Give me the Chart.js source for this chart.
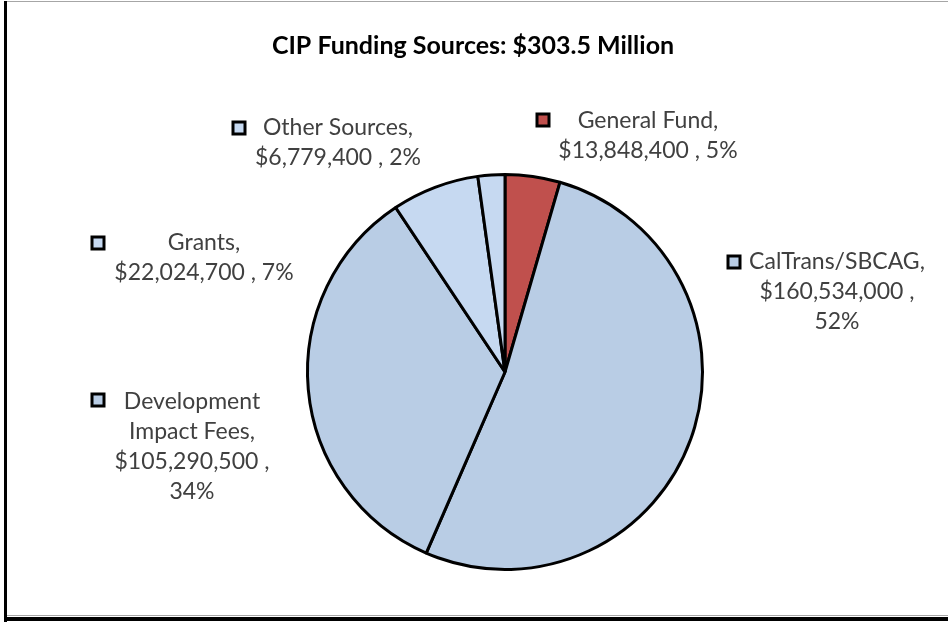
<!DOCTYPE html>
<html>
<head>
<meta charset="utf-8">
<title>CIP Funding Sources</title>
<script src="https://cdn.jsdelivr.net/npm/chart.js@4.4.1/dist/chart.umd.min.js"></script>
<style>
  html, body { margin: 0; padding: 0; background: #ffffff; }
  #wrap { width: 948px; height: 624px; }
</style>
</head>
<body>
<div id="wrap"><canvas id="pie" width="948" height="624"></canvas></div>
<script>
// Funding sources, in slice order (clockwise from 12 o'clock)
const sources = ['General Fund', 'CalTrans/SBCAG', 'Development Impact Fees', 'Grants', 'Other Sources'];
const amounts = [13848400, 160534000, 105290500, 22024700, 6779400];
const shares = [5, 52, 34, 7, 2];
const chartTitle = 'CIP Funding Sources: $303.5 Million';

const sliceColors = ['#C0504D', '#B9CDE5', '#B9CDE5', '#C6D9F1', '#C6D9F1'];

// Where each callout sits: marker box, text column centre, first line, wrap width
const callouts = [
  { mx: 543, my: 120, cx: 648, y: 121, wrap: 200 },
  { mx: 734, my: 262, cx: 837, y: 262, wrap: 190 },
  { mx: 98,  my: 400, cx: 192, y: 402, wrap: 175 },
  { mx: 98,  my: 243, cx: 204, y: 243, wrap: 200 },
  { mx: 239, my: 128, cx: 338, y: 128, wrap: 190 }
];

const LABEL_FONT = '23px Lato, "Open Sans", sans-serif';
const TITLE_FONT = 'bold 25px Lato, "Open Sans", sans-serif';
const LINE_GAP = 30;

function money(v) {
  return '$' + v.toLocaleString('en-US');
}

function wrapWords(ctx, text, maxWidth) {
  const words = text.split(' ');
  const lines = [];
  let cur = '';
  words.forEach(w => {
    const test = cur ? cur + ' ' + w : w;
    if (cur && ctx.measureText(test).width > maxWidth) {
      lines.push(cur);
      cur = w;
    } else {
      cur = test;
    }
  });
  if (cur) lines.push(cur);
  return lines;
}

const decorations = {
  id: 'decorations',
  beforeDraw(chart) {
    const ctx = chart.ctx;
    ctx.save();
    ctx.fillStyle = '#ffffff';
    ctx.fillRect(0, 0, chart.width, chart.height);
    // frame
    ctx.fillStyle = '#a6a6a6';
    ctx.fillRect(4, 1, chart.width - 4, 1);
    ctx.fillRect(4, 615, chart.width - 4, 1);
    ctx.fillStyle = '#000000';
    ctx.fillRect(4, 1, 3, 621);
    ctx.fillRect(4, 617, chart.width - 4, 4);
    ctx.restore();
  },
  afterDraw(chart) {
    const ctx = chart.ctx;
    ctx.save();
    ctx.textAlign = 'center';
    ctx.textBaseline = 'middle';
    ctx.fillStyle = '#000000';
    ctx.font = TITLE_FONT;
    ctx.fillText(chartTitle, 473, 46);

    ctx.font = LABEL_FONT;
    sources.forEach((name, i) => {
      const c = callouts[i];
      // legend key square
      ctx.fillStyle = sliceColors[i];
      ctx.fillRect(c.mx - 6, c.my - 6, 12, 12);
      ctx.lineWidth = 3;
      ctx.strokeStyle = '#000000';
      ctx.strokeRect(c.mx - 6, c.my - 6, 12, 12);

      const text = name + ', ' + money(amounts[i]) + ' , ' + shares[i] + '%';
      const lines = wrapWords(ctx, text, c.wrap);
      ctx.fillStyle = '#404040';
      lines.forEach((ln, k) => ctx.fillText(ln, c.cx, c.y + k * LINE_GAP));
    });
    ctx.restore();
  }
};

new Chart(document.getElementById('pie'), {
  type: 'pie',
  data: {
    labels: sources,
    datasets: [{
      data: amounts,
      backgroundColor: sliceColors,
      borderColor: '#000000',
      borderWidth: 3
    }]
  },
  options: {
    responsive: false,
    animation: false,
    devicePixelRatio: 1,
    layout: { padding: { left: 306, right: 244, top: 173, bottom: 53 } },
    plugins: {
      legend: { display: false },
      title: { display: false },
      tooltip: { enabled: false }
    }
  },
  plugins: [decorations]
});
</script>
</body>
</html>
